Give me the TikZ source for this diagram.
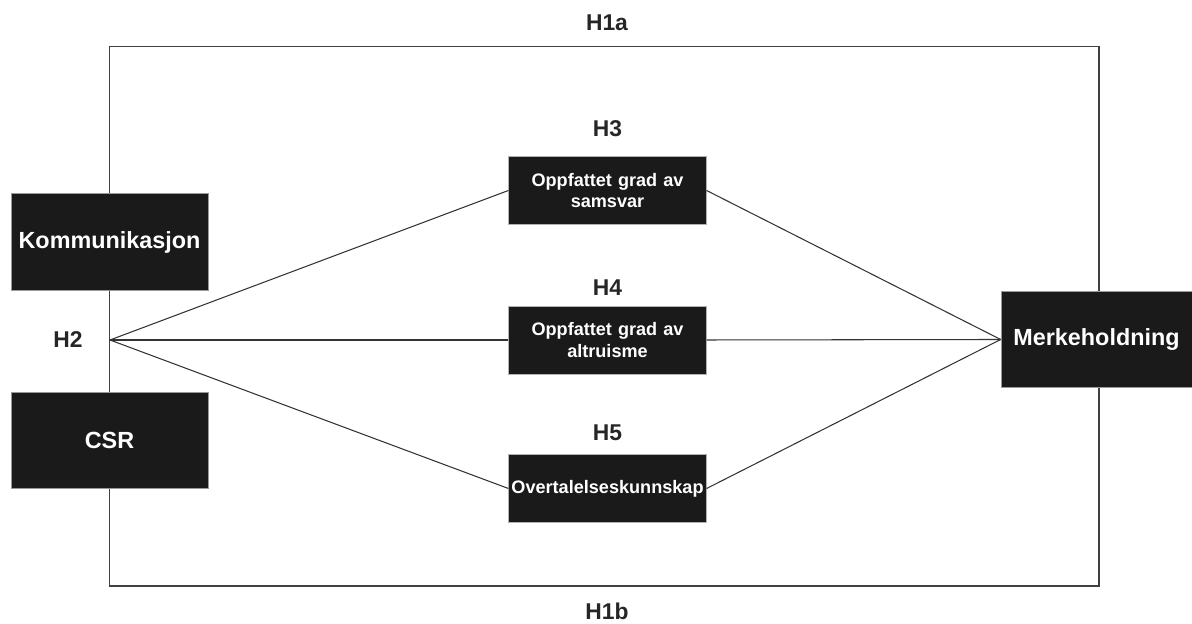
\documentclass[tikz,border=0pt]{standalone}
\usepackage{fontspec}
\setmainfont{Liberation Sans}
\usepackage{tikz}
\usetikzlibrary{positioning,calc}
\definecolor{boxfill}{HTML}{1A1A1A}
\definecolor{linecol}{HTML}{333333}

\begin{document}
\begin{tikzpicture}[
    bigbox/.style={draw=gray!80, fill=boxfill, text=white, minimum width=3.94cm, minimum height=1.93cm, font=\fontsize{13.3}{15}\selectfont\bfseries, inner sep=0pt},
    midbox/.style={draw=gray!60, fill=boxfill, text=white, minimum width=3.95cm, minimum height=1.36cm, text width=3.9cm, align=center, font=\fontsize{10.3}{12}\selectfont\bfseries, inner sep=0pt},
    hlabel/.style={font=\fontsize{13}{15}\selectfont\bfseries, text=black!85, inner sep=0pt},
    link/.style={draw=linecol, line width=0.6pt}
]
    \useasboundingbox (0,0) rectangle (23.84,12.48);
    % frame round the model
    \draw[draw=gray!50!black, line width=0.7pt] (2.19,0.76) rectangle (21.98,11.55);

    \node[bigbox] (komm) at (2.19,7.64) {Kommunikasjon};
    \node[bigbox] (csr) at (2.19,3.67) {CSR};
    \node[bigbox, minimum width=3.82cm] (merk) at (21.93,5.69) {Merkeholdning};

    \node[midbox] (samsvar) at (12.15,8.67) {Oppfattet grad av\\samsvar};
    \node[midbox] (altruisme) at (12.15,5.68) {Oppfattet grad av\\altruisme};
    \node[midbox] (overtal) at (12.15,2.71) {Overtalelseskunnskap};

    \coordinate (h2pt) at (2.2,5.68);
    \coordinate (merkpt) at (merk.west);

    \draw[link] (h2pt) -- (samsvar.west);
    \draw[link] (h2pt) -- (altruisme.west);
    \draw[link] (h2pt) -- (overtal.west);
    \draw[link] (samsvar.east) -- (merkpt);
    \draw[link] (altruisme.east) -- (merkpt);
    \draw[link] (overtal.east) -- (merkpt);

    \node[hlabel] (h1a) at (12.14,12.02) {H1a};
    \node[hlabel] (h1b) at (12.14,0.26) {H1b};
    \node[hlabel] (h2) at (1.36,5.68) {H2};
    \node[hlabel, above=0.38cm of samsvar] (h3) {H3};
    \node[hlabel, above=0.2cm of altruisme] (h4) {H4};
    \node[hlabel, above=0.26cm of overtal] (h5) {H5};
\end{tikzpicture}
\end{document}
